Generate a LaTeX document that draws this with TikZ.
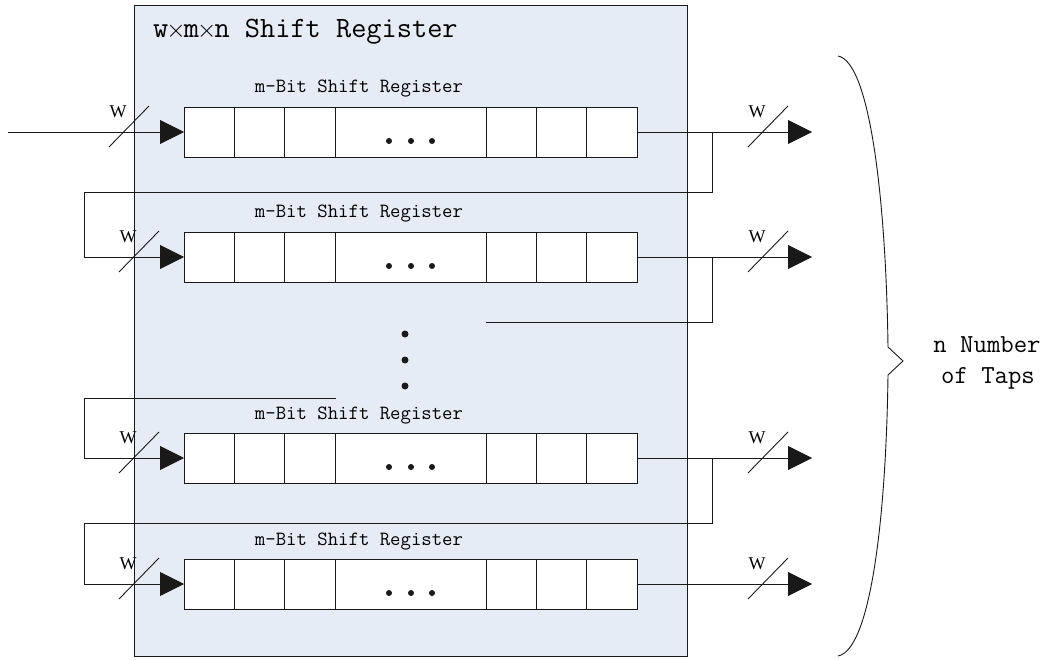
\documentclass[tikz,border=0pt]{standalone}
\usepackage{fontspec}
\setmainfont{Liberation Serif}
\usetikzlibrary{arrows.meta}
\definecolor{boxfill}{RGB}{230,236,246}
\definecolor{ln}{RGB}{25,25,25}
\newcommand{\mytimes}{\makebox[0.525em]{$\times$}}
\tikzset{
 wire/.style={draw=ln, line width=0.9pt},
 tap/.style={wire, -{Triangle[length=24pt,width=24pt]}},
 reg/.style={draw=ln, line width=0.9pt, fill=white, minimum width=453pt, minimum height=50pt, inner sep=0pt, outer sep=0pt},
 wlab/.style={font=\fontsize{18}{18}\selectfont, inner sep=0pt},
 reglab/.style={font=\ttfamily\fontsize{20.2}{20}\selectfont, inner sep=0pt, anchor=base},
 biglab/.style={font=\ttfamily\fontsize{26}{26}\selectfont, inner sep=0pt, anchor=base},
}
\begin{document}
\begin{tikzpicture}[x=1pt,y=-1pt]
\useasboundingbox (0,0) rectangle (1049,660);
% outer box
\node[draw=ln, fill=boxfill, line width=0.9pt, minimum width=553pt, minimum height=651pt, anchor=north west, inner sep=0pt, outer sep=0pt] (box) at (134,5) {};
\node[font=\ttfamily\fontsize{29.5}{30}\selectfont, anchor=base west, inner sep=0pt] (title) at (153,38) {w\mytimes m\mytimes n Shift Register};

% registers
\foreach \n/\y in {1/132,2/257,3/458,4/584}{
  \node[reg, anchor=west] (r\n) at (184,\y) {};
  \foreach \k in {1,2,3,6,7,8}{
    \draw[wire] (184+\k*50.33,\y-25) -- (184+\k*50.33,\y+25);
  }
  \foreach \dx in {389,411,432}{
    \fill[ln] (\dx,\y+9) circle (3);
  }
  \node[reglab] (l\n) at (359,\y-39) {m-Bit Shift Register};
  % outputs
  \coordinate (o\n) at (812,\y);
  \draw[tap] (r\n.east) -- (o\n);
  \draw[wire] (768-20,\y+15) -- (768+20,\y-26);
  \node[wlab] (wo\n) at (757,\y-20) {W};
}

% vertical dots
\foreach \yy in {334,360,386}{
  \fill[ln] (405,\yy) circle (3.5);
}

% input of first register
\coordinate (in) at (8,132);
\draw[tap] (in) -- (r1.west);
\draw[wire] (129-20,132+15) -- (129+20,132-26);
\node[wlab] (wi1) at (118,112) {W};

% feedback 1 -> 2
\coordinate (a1) at (712,132);
\coordinate (a2) at (712,192);
\coordinate (a3) at (84,192);
\coordinate (a4) at (84,257);
\draw[tap] (a1) -- (a2) -- (a3) -- (a4) -- (r2.west);

% feedback 2 -> dots
\coordinate (b1) at (712,257);
\coordinate (b2) at (712,322);
\coordinate (b3) at (486,322);
\draw[wire] (b1) -- (b2) -- (b3);

% dots -> 3
\coordinate (c1) at (336,398);
\coordinate (c2) at (84,398);
\coordinate (c3) at (84,458);
\draw[tap] (c1) -- (c2) -- (c3) -- (r3.west);

% feedback 3 -> 4
\coordinate (d1) at (712,458);
\coordinate (d2) at (712,523);
\coordinate (d3) at (84,523);
\coordinate (d4) at (84,584);
\draw[tap] (d1) -- (d2) -- (d3) -- (d4) -- (r4.west);

% input slashes rows 2-4
\foreach \n/\y in {2/257,3/458,4/584}{
  \draw[wire] (139-20,\y+15) -- (139+20,\y-26);
  \node[wlab] (wi\n) at (128,\y-20) {W};
}

% brace
\coordinate (bt) at (838,56);
\coordinate (bm) at (903,361);
\coordinate (bb) at (838,656);
\draw[wire] (bt) .. controls (870,62) and (886,200) .. (888,347) -- (bm) -- (888,375) .. controls (886,522) and (870,650) .. (bb);
\node[biglab] (t1) at (987,352) {n Number};
\node[biglab] (t2) at (988,383) {of Taps};
\end{tikzpicture}
\end{document}
